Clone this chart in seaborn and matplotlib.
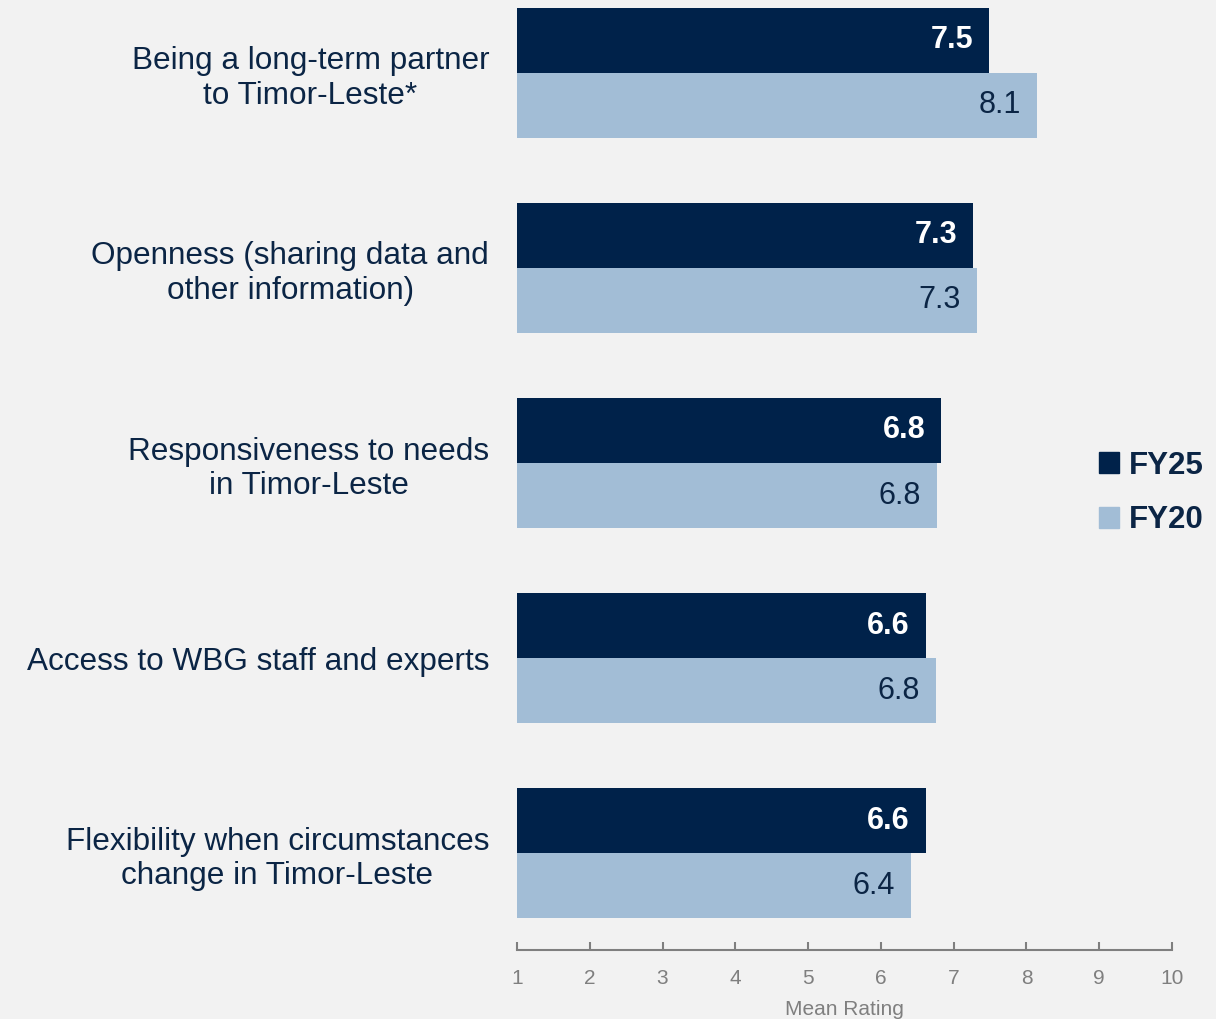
import matplotlib
matplotlib.use("Agg")
import matplotlib.pyplot as plt
from matplotlib.patches import Patch
import seaborn as sns
import pandas as pd

categories = [
    "Being a long-term partner\nto Timor-Leste*",
    "Openness (sharing data and\nother information)",
    "Responsiveness to needs\nin Timor-Leste",
    "Access to WBG staff and experts",
    "Flexibility when circumstances\nchange in Timor-Leste",
]
# bar lengths (labels shown rounded to 1 decimal)
fy25 = [7.49, 7.27, 6.83, 6.62, 6.62]
fy20 = [8.14, 7.32, 6.77, 6.76, 6.41]
series = ["FY25", "FY20"]
xticks = [1, 2, 3, 4, 5, 6, 7, 8, 9, 10]

navy = "#00224A"
light = "#A2BDD6"
bg = "#F2F2F2"
text_navy = "#0B2545"
gray = "#7F7F7F"

df = pd.DataFrame({
    "cat": categories * 2,
    "val": fy25 + fy20,
    "series": ["FY25"] * len(categories) + ["FY20"] * len(categories),
})

sns.set_theme(style="white")
plt.rcParams["font.family"] = ["Liberation Sans", "DejaVu Sans"]

fig = plt.figure(figsize=(12.16, 10.19), dpi=100, facecolor=bg)
ax = fig.add_axes([517 / 1216, 1 - 950 / 1019, (1172 - 517) / 1216, 950 / 1019])
ax.set_facecolor(bg)

sns.barplot(data=df, y="cat", x="val", hue="series", hue_order=series,
            palette=[navy, light], orient="h", width=0.667, gap=0,
            saturation=1, linewidth=0, ax=ax, legend=False)

ax.set_xlim(1, 10)
ax.set_ylim(4.497, -0.374)
ax.set_xticks(xticks)
ax.set_xticklabels([str(t) for t in xticks], color=gray, fontsize=15)
ax.tick_params(axis="x", bottom=True, direction="in", length=6, width=1.5,
               color=gray, pad=14)
ax.tick_params(axis="y", left=False, length=0, pad=20)
ax.set_yticks(range(len(categories)))
ax.set_yticklabels(categories, fontsize=22.7, color=text_navy)
for lab in ax.get_yticklabels():
    lab.set_multialignment("center")
    lab.set_linespacing(1.2)
ax.set_xlabel("Mean Rating", color=gray, fontsize=15, labelpad=8)
ax.set_ylabel("")
for s in ["top", "right", "left"]:
    ax.spines[s].set_visible(False)
ax.spines["bottom"].set_color(gray)
ax.spines["bottom"].set_linewidth(1.5)

off = 0.667 / 4
for i, (a, b) in enumerate(zip(fy25, fy20)):
    ax.text(a - 0.22, i - off, f"{a:.1f}", ha="right", va="center",
            color="white", fontsize=22, fontweight="bold")
    ax.text(b - 0.22, i + off, f"{b:.1f}", ha="right", va="center",
            color=text_navy, fontsize=22)

handles = [Patch(color=navy), Patch(color=light)]
leg = fig.legend(handles, series, loc="center left",
                 bbox_to_anchor=(1071 / 1216, 1 - 493 / 1019),
                 frameon=False, handlelength=0.65, handleheight=0.65,
                 handletextpad=0.3, labelspacing=0.8,
                 prop={"size": 22.5, "weight": "bold"})
for t in leg.get_texts():
    t.set_color(text_navy)

fig.savefig("out.png", dpi=100, facecolor=bg)
